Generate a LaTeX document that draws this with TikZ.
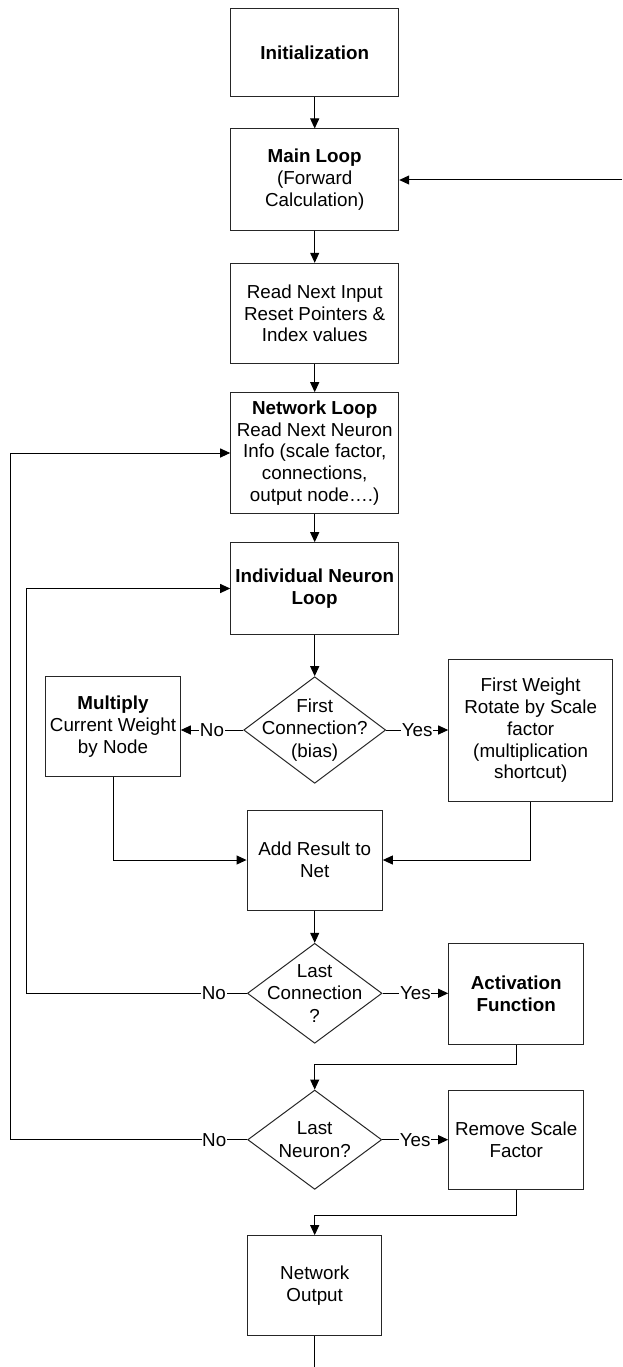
\documentclass[tikz,border=0pt]{standalone}
\usepackage{fontspec}
\setmainfont{Liberation Sans}
\usetikzlibrary{arrows.meta,shapes.geometric}
\begin{document}
\begin{tikzpicture}[x=1pt,y=-1pt,
  every node/.style={font=\fontsize{18.8pt}{21.7pt}\selectfont},
  box/.style={draw=black!85,line width=1pt,rectangle,inner sep=0pt,align=center},
  dia/.style={draw=black!85,line width=1pt,diamond,inner sep=0pt},
  dtext/.style={align=center,inner sep=0pt,font=\fontsize{18.8pt}{22.5pt}\selectfont},
  arr/.style={line width=1pt,-{Triangle[length=10pt,width=9pt]}},
  ln/.style={line width=1pt},
  lab/.style={fill=white,inner sep=0.6pt}]
\useasboundingbox (0,0) rectangle (622,1367);
% main column
\node[box,minimum width=168pt,minimum height=88.5pt] (init) at (314.7,52.5) {\textbf{Initialization}};
\node[box,minimum width=168pt,minimum height=101pt] (main) at (314.7,179.5) {\textbf{Main Loop}\\(Forward\\Calculation)};
\node[box,minimum width=168pt,minimum height=100pt] (read) at (314.7,313.3) {Read Next Input\\Reset Pointers \&\\Index values};
\node[box,minimum width=168pt,minimum height=120.6pt] (netloop) at (314.7,453) {\textbf{Network Loop}\\Read Next Neuron\\Info (scale factor,\\connections,\\output node\dots.)};
\node[box,minimum width=168pt,minimum height=91.6pt] (indiv) at (314.7,588.5) {\textbf{Individual Neuron}\\\textbf{Loop}};
\node[dia,minimum width=142pt,minimum height=106.6pt,label={[dtext]center:{First\\Connection?\\(bias)}}] (d1) at (314.7,730) {};
\node[box,minimum width=134.6pt,minimum height=100pt] (mult) at (113,726.7) {\textbf{Multiply}\\Current Weight\\by Node};
\node[box,minimum width=164pt,minimum height=142.4pt] (fw) at (530.7,730.5) {First Weight\\Rotate by Scale\\factor\\(multiplication\\shortcut)};
\node[box,minimum width=135.3pt,minimum height=100pt] (add) at (314.7,860) {Add Result to\\Net};
\node[dia,minimum width=134.6pt,minimum height=100pt,label={[dtext]center:{Last\\Connection\\?}}] (d2) at (314.7,993.3) {};
\node[box,minimum width=135pt,minimum height=100.7pt] (act) at (516.2,993.7) {\textbf{Activation}\\\textbf{Function}};
\node[dia,minimum width=134pt,minimum height=99.3pt,label={[dtext]center:{Last\\Neuron?}}] (d3) at (314.7,1139.7) {};
\node[box,minimum width=135pt,minimum height=99.3pt] (rem) at (516.2,1139.7) {Remove Scale\\Factor};
\node[box,minimum width=134pt,minimum height=100.3pt] (out) at (314.7,1285.8) {Network\\Output};
% helper coordinates
\coordinate (mainin) at (622,180);
\coordinate (l1) at (10,0);
\coordinate (l2) at (26,0);
\coordinate (endpt) at (314.7,1367);
% connectors
\draw[arr] (init) -- (main);
\draw[arr] (mainin) -- (mainin -| main.east);
\draw[arr] (main) -- (read);
\draw[arr] (read) -- (netloop);
\draw[arr] (netloop) -- (indiv);
\draw[arr] (indiv) -- (d1);
\draw[arr] (d1.west) -- node[lab]{No} (d1.west -| mult.east);
\draw[arr] (d1.east) -- node[lab]{Yes} (d1.east -| fw.west);
\draw[arr] (mult.south) |- (add.west);
\draw[arr] (fw.south) |- (add.east);
\draw[arr] (add) -- (d2);
\draw[arr] (d2.east) -- node[lab]{Yes} (d2.east -| act.west);
\draw[arr] (d2.west) -- (d2.west -| l2) |- (indiv.west);
\node[lab] at ([xshift=-33pt]d2.west) {No};
\draw[arr] (act.south) -- ([yshift=-20pt]act.south) -| (d3.north);
\draw[arr] (d3.east) -- node[lab]{Yes} (d3.east -| rem.west);
\draw[arr] (d3.west) -- (d3.west -| l1) |- (netloop.west);
\node[lab] at ([xshift=-33pt]d3.west) {No};
\draw[arr] (rem.south) -- ([yshift=-26pt]rem.south) -| (out.north);
\draw[ln] (out.south) -- (endpt);
\end{tikzpicture}
\end{document}
